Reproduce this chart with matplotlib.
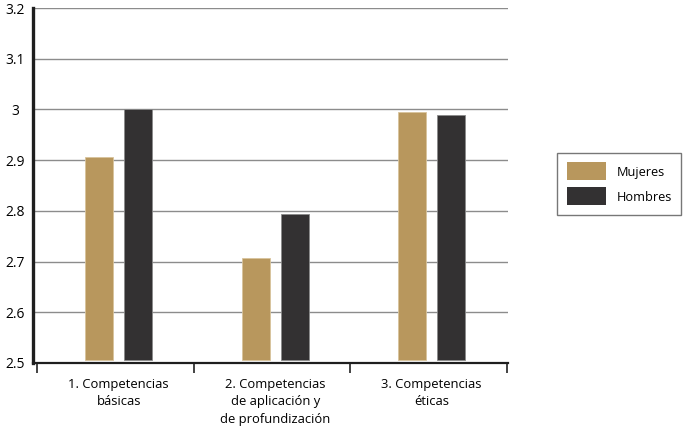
import matplotlib
matplotlib.use("Agg")
import matplotlib.pyplot as plt
import numpy as np

plt.rcParams['font.family'] = ['Open Sans', 'DejaVu Sans']

# Data
categorias = ["1. Competencias\nbásicas",
              "2. Competencias\nde aplicación y\nde profundización",
              "3. Competencias\néticas"]
mujeres = [2.906, 2.708, 2.994]
hombres = [3.000, 2.794, 2.990]
yticks = [2.5, 2.6, 2.7, 2.8, 2.9, 3.0, 3.1, 3.2]
ytick_labels = ["2.5", "2.6", "2.7", "2.8", "2.9", "3", "3.1", "3.2"]

c_muj = '#B8975D'
c_hom = '#333132'
base = 2.505

fig = plt.figure(figsize=(6.83, 4.47), dpi=100)
ax = fig.add_axes([0.048, 0.188, 0.696, 0.794])

x = np.arange(len(categorias))
w = 0.18
off = 0.125
ax.bar(x - off, np.array(mujeres) - base, w, bottom=base, color=c_muj,
       edgecolor='#D8C49C', linewidth=0.6, label='Mujeres', zorder=3)
ax.bar(x + off, np.array(hombres) - base, w, bottom=base, color=c_hom,
       edgecolor='#8A8A8A', linewidth=0.6, label='Hombres', zorder=3)

ax.set_ylim(2.5, 3.2)
ax.set_xlim(-0.55, 2.49)

# horizontal grid lines
for yv in yticks[1:]:
    ax.axhline(yv, color='#8C8C8C', linewidth=1.0, zorder=1)

ax.set_yticks(yticks)
ax.set_yticklabels(ytick_labels, fontsize=10, ha='center')
ax.tick_params(axis='y', length=0, pad=12.5)

ax.set_xticks(x)
ax.set_xticklabels(categorias, fontsize=9.4, linespacing=1.45, va='top')
ax.tick_params(axis='x', which='major', length=0, pad=10.5)
ax.set_xticks([-0.52, 0.48, 1.48, 2.48], minor=True)
ax.tick_params(axis='x', which='minor', length=7.5, width=1.2,
               color='#222222', direction='out')

for s in ['top', 'right']:
    ax.spines[s].set_visible(False)
ax.spines['left'].set_linewidth(2.4)
ax.spines['left'].set_color('#1E1E1E')
ax.spines['bottom'].set_linewidth(1.6)
ax.spines['bottom'].set_color('#1E1E1E')

leg = ax.legend(loc='upper left', bbox_to_anchor=(0.8155, 0.658),
                bbox_transform=fig.transFigure, fontsize=9.2,
                frameon=True, fancybox=False, edgecolor='#555555',
                handlelength=3.05, handleheight=1.79, handletextpad=0.86,
                borderpad=0.75, labelspacing=0.55, borderaxespad=0)
leg.get_frame().set_linewidth(1.0)
for h in leg.legend_handles:
    h.set_edgecolor('none')

fig.savefig("out.png", dpi=100)
